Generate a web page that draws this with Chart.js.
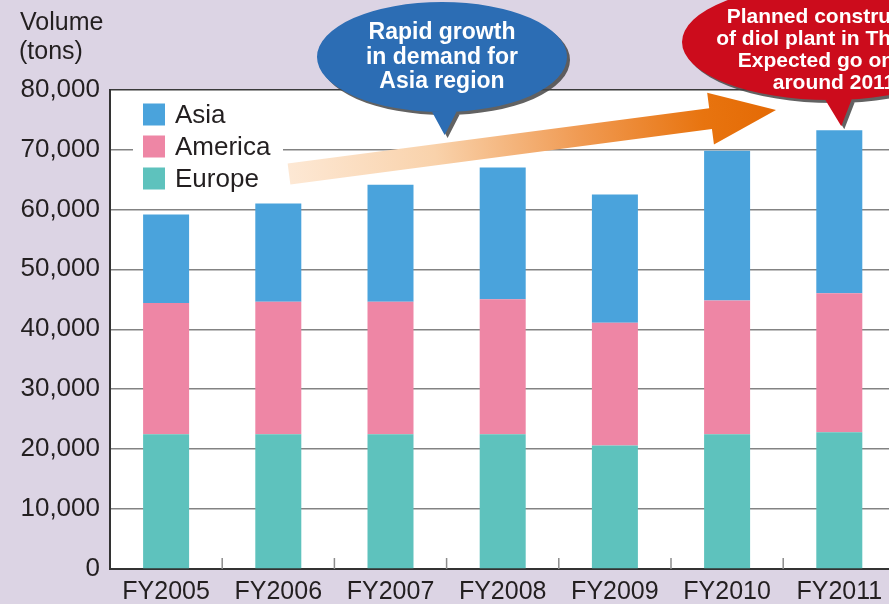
<!DOCTYPE html>
<html>
<head>
<meta charset="utf-8">
<script src="https://cdn.jsdelivr.net/npm/chart.js@4/dist/chart.umd.min.js"></script>
<style>
  html, body { margin: 0; padding: 0; overflow: hidden; background: #dcd4e4; }
  #wrap { width: 900px; height: 604px; }
</style>
</head>
<body>
<div id="wrap"><canvas id="c" width="900" height="604"></canvas></div>
<script>
// Shipment volume by region (tons)
const years   = ['FY2005', 'FY2006', 'FY2007', 'FY2008', 'FY2009', 'FY2010', 'FY2011'];
const europe  = [22500, 22500, 22500, 22500, 20600, 22500, 22800];
const america = [21900, 22100, 22100, 22500, 20500, 22300, 23200];
const asia    = [14750, 16400, 19500, 22000, 21400, 25000, 27200];
const yMax = 80000;
const yStep = 10000;

const FONT = "'Liberation Sans', Arial, Helvetica, sans-serif";
const INK = '#231f20';

// white plot background
const plotBackground = {
  id: 'plotBackground',
  beforeDraw(chart) {
    const { ctx, chartArea: a } = chart;
    ctx.save();
    ctx.fillStyle = '#ffffff';
    ctx.fillRect(a.left, a.top, a.right - a.left, a.bottom - a.top);
    ctx.restore();
  }
};

// axis title, category separator ticks and the legend panel
const decorations = {
  id: 'decorations',
  beforeDatasetsDraw(chart) {
    const { ctx, chartArea: a, scales } = chart;
    const x = scales.x;
    ctx.save();
    // short separator marks between categories
    ctx.strokeStyle = '#8c8c8c';
    ctx.lineWidth = 1.5;
    for (let i = 0; i < years.length; i++) {
      const px = (x.getPixelForValue(i) + x.getPixelForValue(i + 1)) / 2;
      ctx.beginPath();
      ctx.moveTo(px, a.bottom);
      ctx.lineTo(px, a.bottom - 11);
      ctx.stroke();
    }
    // legend panel (hides the grid behind it)
    const lx = a.left + 23, ly = a.top + 8;
    ctx.fillStyle = '#ffffff';
    ctx.fillRect(lx, ly, 150, 100);
    const items = chart.data.datasets.slice().reverse();
    ctx.font = '26px ' + FONT;
    ctx.textBaseline = 'middle';
    ctx.textAlign = 'left';
    items.forEach((ds, i) => {
      const cy = a.top + 25 + i * 32;
      ctx.fillStyle = ds.backgroundColor;
      ctx.fillRect(a.left + 33, cy - 11, 22, 22);
      ctx.fillStyle = INK;
      ctx.fillText(ds.label, a.left + 65, cy + 1);
    });
    ctx.restore();
  },
  afterDraw(chart) {
    const { ctx } = chart;
    ctx.save();
    ctx.fillStyle = INK;
    ctx.font = '25px ' + FONT;
    ctx.textBaseline = 'middle';
    ctx.textAlign = 'left';
    ctx.fillText('Volume', 20, 23);
    ctx.fillText('(tons)', 19, 52);
    ctx.restore();
  }
};

function bubblePath(ctx, cx, cy, rx, ry, ptr) {
  ctx.beginPath();
  ctx.ellipse(cx, cy, rx, ry, 0, 0, Math.PI * 2);
  ctx.moveTo(ptr[0][0], ptr[0][1]);
  ctx.lineTo(ptr[1][0], ptr[1][1]);
  ctx.lineTo(ptr[2][0], ptr[2][1]);
  ctx.closePath();
}

function drawBubble(ctx, b) {
  ctx.save();
  ctx.translate(3, 3);
  ctx.fillStyle = 'rgba(70,70,70,0.85)';
  bubblePath(ctx, b.cx, b.cy, b.rx, b.ry, b.ptr);
  ctx.fill('nonzero');
  ctx.restore();
  ctx.save();
  ctx.fillStyle = b.color;
  bubblePath(ctx, b.cx, b.cy, b.rx, b.ry, b.ptr);
  ctx.fill('nonzero');
  ctx.fillStyle = '#ffffff';
  ctx.font = 'bold ' + b.size + 'px ' + FONT;
  ctx.textAlign = 'center';
  ctx.textBaseline = 'middle';
  b.lines.forEach((t, i) => ctx.fillText(t, b.tx, b.ty + i * b.lh));
  ctx.restore();
}

// growth arrow and call-out bubbles
const callouts = {
  id: 'callouts',
  afterDraw(chart) {
    const { ctx, scales } = chart;
    const x = scales.x, y = scales.y;

    // arrow
    const sx = 289, sy = 174, ex = 776, ey = 110;
    const L = Math.hypot(ex - sx, ey - sy);
    const ux = (ex - sx) / L, uy = (ey - sy) / L;
    const nx = -uy, ny = ux;
    const hw = 10.5, headW = 26, headL = 66;
    const bx = ex - ux * headL, by = ey - uy * headL;
    const grad = ctx.createLinearGradient(sx, sy, ex, ey);
    grad.addColorStop(0, '#fde8d4');
    grad.addColorStop(0.3, '#f9d2ab');
    grad.addColorStop(0.6, '#f09a52');
    grad.addColorStop(0.85, '#e8740f');
    grad.addColorStop(1, '#e46a05');
    ctx.save();
    ctx.fillStyle = grad;
    ctx.beginPath();
    ctx.moveTo(sx + nx * hw, sy + ny * hw);
    ctx.lineTo(bx + nx * hw, by + ny * hw);
    ctx.lineTo(bx + nx * headW, by + ny * headW);
    ctx.lineTo(ex, ey);
    ctx.lineTo(bx - nx * headW, by - ny * headW);
    ctx.lineTo(bx - nx * hw, by - ny * hw);
    ctx.lineTo(sx - nx * hw, sy - ny * hw);
    ctx.closePath();
    ctx.fill();
    ctx.restore();

    // blue bubble, pointing between FY2007 and FY2008
    const bTip = (x.getPixelForValue(2) + x.getPixelForValue(3)) / 2 - 2;
    drawBubble(ctx, {
      cx: 442, cy: 57, rx: 125, ry: 55, color: '#2c6db4',
      ptr: [[bTip - 19, 100], [bTip + 18, 100], [bTip, 135]],
      lines: ['Rapid growth', 'in demand for', 'Asia region'],
      tx: 442, ty: 33, lh: 24.5, size: 23
    });

    // red bubble, pointing at the FY2011 bar
    const rTip = x.getPixelForValue(6) + 2;
    const rTop = y.getPixelForValue(asia[6] + america[6] + europe[6]) - 4;
    drawBubble(ctx, {
      cx: 830, cy: 42, rx: 148, ry: 58, color: '#cc0c1c',
      ptr: [[rTip - 22, 90], [rTip + 14, 90], [rTip, rTop]],
      lines: ['Planned construction', 'of diol plant in Thailand', 'Expected go online', 'around 2011'],
      tx: 834, ty: 17, lh: 22, size: 21
    });
  }
};

const ctx = document.getElementById('c').getContext('2d');
new Chart(ctx, {
  type: 'bar',
  data: {
    labels: years,
    datasets: [
      { label: 'Europe',  data: europe,  backgroundColor: '#5ec2bd' },
      { label: 'America', data: america, backgroundColor: '#ee86a5' },
      { label: 'Asia',    data: asia,    backgroundColor: '#4aa3dc' }
    ]
  },
  options: {
    responsive: false,
    animation: false,
    devicePixelRatio: 1,
    categoryPercentage: 1,
    barPercentage: 0.41,
    layout: { padding: { top: 89.5, right: 4.6, left: 0, bottom: 0 } },
    plugins: { legend: { display: false }, tooltip: { enabled: false } },
    scales: {
      x: {
        stacked: true,
        grid: { display: true, drawOnChartArea: false, drawTicks: false },
        border: { display: true, color: '#333333', width: 2 },
        ticks: { color: INK, font: { family: FONT, size: 25 }, padding: 8, maxRotation: 0 },
        afterFit(scale) { scale.height = 35; }
      },
      y: {
        stacked: true,
        min: 0,
        max: yMax,
        grid: {
          drawTicks: false,
          lineWidth: 1.5,
          color: (c) => (c.tick && c.tick.value === yMax ? '#3a3a3a' : '#838383')
        },
        border: { display: true, color: '#333333', width: 2 },
        ticks: {
          stepSize: yStep,
          color: INK,
          padding: 10,
          font: { family: FONT, size: 26 },
          callback: (v) => v.toLocaleString('en-US')
        },
        afterFit(scale) { scale.width = 110; }
      }
    }
  },
  plugins: [plotBackground, decorations, callouts]
});
</script>
</body>
</html>
